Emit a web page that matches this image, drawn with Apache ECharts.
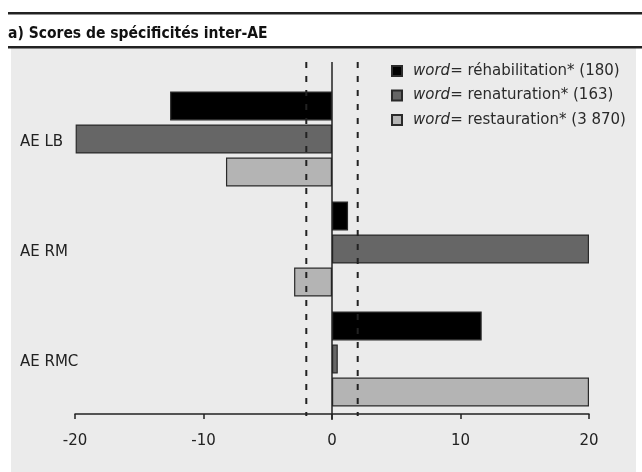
<!DOCTYPE html>
<html>
<head>
<meta charset="utf-8">
<script src="https://cdn.jsdelivr.net/npm/echarts@6/dist/echarts.min.js"></script>
<style>
html,body{margin:0;padding:0;background:#fff;}
#main{width:642px;height:472px;}
</style>
</head>
<body>
<div id="main"></div>
<script>
var categories = ['AE LB', 'AE RM', 'AE RMC'];
var rehab = [-12.6, 1.25, 11.65];
var renat = [-19.95, 20, 0.45];
var restau = [-8.25, -2.95, 20];
var seriesNames = ['réhabilitation* (180)', 'renaturation* (163)', 'restauration* (3 870)'];
var xTicks = [-20, -10, 0, 10, 20];
var refLines = [-2, 2];

var myChart = echarts.init(document.getElementById('main'));

var barStyle = function (color) {
    return { color: color, borderColor: '#2a2a2a', borderWidth: 1.2 };
};

var option = {
    animation: false,
    backgroundColor: '#fff',
    textStyle: { fontFamily: 'DejaVu Sans' },
    title: {
        text: 'a) Scores de spécificités inter-AE',
        left: 3,
        top: 21,
        textStyle: { fontFamily: 'DejaVu Sans Condensed', fontWeight: 'bold', fontSize: 15.5, color: '#111' }
    },
    legend: {
        orient: 'vertical',
        left: 386,
        top: 57,
        itemWidth: 10,
        itemHeight: 10,
        itemGap: 6.5,
        icon: 'rect',
        data: seriesNames,
        formatter: function (name) {
            return '{i|word}= ' + name;
        },
        textStyle: {
            fontFamily: 'DejaVu Sans',
            fontSize: 15,
            lineHeight: 18,
            color: '#2a2a2a',
            padding: [0, 0, 0, 6],
            rich: { i: { fontStyle: 'italic', fontFamily: 'DejaVu Sans', fontSize: 15, lineHeight: 18, color: '#2a2a2a' } }
        }
    },
    grid: { left: 75, right: 53, top: 84, bottom: 58 },
    xAxis: {
        type: 'value',
        min: -20,
        max: 20,
        interval: 10,
        splitLine: { show: false },
        axisLine: { show: true, onZero: false, lineStyle: { color: '#222', width: 1.5 } },
        axisTick: { show: true, inside: false, length: 5, lineStyle: { color: '#222', width: 1.5 } },
        axisLabel: {
            fontSize: 15, color: '#222', margin: 20,
            formatter: function (v) { return xTicks.indexOf(v) >= 0 ? String(v) : ''; }
        }
    },
    yAxis: {
        type: 'category',
        inverse: true,
        data: categories,
        axisLine: { show: false, onZero: false },
        axisTick: { show: false },
        axisLabel: {
            align: 'left', margin: 55,
            formatter: function (v) { return '{a|' + v + '}'; },
            rich: { a: { fontSize: 15, color: '#222', padding: [6, 0, 0, 0] } }
        }
    },
    series: [
        { name: seriesNames[0], type: 'bar', data: rehab, barWidth: 29, barGap: '14%', itemStyle: barStyle('#000000') },
        { name: seriesNames[1], type: 'bar', data: renat, barWidth: 29, barGap: '14%', itemStyle: barStyle('#666666') },
        { name: seriesNames[2], type: 'bar', data: restau, barWidth: 29, barGap: '14%', itemStyle: barStyle('#b4b4b4') }
    ]
};
myChart.setOption(option);

// background panel, title rules and reference lines (placed through the x scale)
var graphics = [
    { type: 'rect', z: -10, shape: { x: 11, y: 48, width: 625, height: 424 }, style: { fill: '#ebebeb' } },
    { type: 'rect', z: 10, shape: { x: 8, y: 12, width: 634, height: 2.5 }, style: { fill: '#222' } },
    { type: 'rect', z: 10, shape: { x: 8, y: 46, width: 634, height: 2.5 }, style: { fill: '#222' } }
];
var zx = myChart.convertToPixel({ xAxisIndex: 0 }, 0);
graphics.push({
    type: 'line', z: 20,
    shape: { x1: zx, y1: 62, x2: zx, y2: 420 },
    style: { stroke: '#222', lineWidth: 1.5 }
});
refLines.forEach(function (v) {
    var px = myChart.convertToPixel({ xAxisIndex: 0 }, v);
    graphics.push({
        type: 'line', z: 20,
        shape: { x1: px, y1: 62, x2: px, y2: 416 },
        style: { stroke: '#222', lineWidth: 2, lineDash: [6, 8] }
    });
});
myChart.setOption({ graphic: graphics });
</script>
</body>
</html>
